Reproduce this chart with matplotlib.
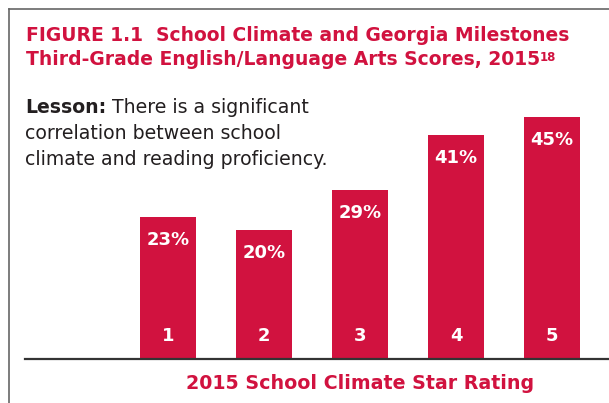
import matplotlib
matplotlib.use("Agg")
from matplotlib import pyplot as plt
from matplotlib.lines import Line2D

# Data
ratings = [1, 2, 3, 4, 5]
rating_labels = ["1", "2", "3", "4", "5"]
scores = [23, 20, 29, 41, 45]
value_labels = ["23%", "20%", "29%", "41%", "45%"]

TITLE_1 = "FIGURE 1.1  School Climate and Georgia Milestones"
TITLE_2 = "Third-Grade English/Language Arts Scores, 2015"
FOOTNOTE = "18"
LESSON_BOLD = "Lesson:"
LESSON_REST = " There is a significant"
LESSON_LINES = ["correlation between school", "climate and reading proficiency."]
X_LABEL = "2015 School Climate Star Rating"

RED = "#D1123F"
DARK = "#333333"
BORDER = "#666666"
INK = "#231F20"

W, H, DPI = 609, 403, 100
BASE = -8.5  # baseline of the bars sits below zero in the original
plt.rcParams["font.family"] = ["DejaVu Sans"]

fig = plt.figure(figsize=(W / DPI, H / DPI), dpi=DPI)
fig.patch.set_facecolor("white")


def px(x, y):
    """ Pixel position (from top-left) to figure fraction. """
    return x / W, 1 - y / H


# Axes: 96 px per rating unit, 4.52 px per percent point
left_px, bottom_px = 25, 359
x0 = 1 - (168 - left_px) / 96
x1 = 5 + (W - 552) / 96
y1 = BASE + bottom_px / 4.52
ax = fig.add_axes([left_px / W, (H - bottom_px) / H, 1 - left_px / W, bottom_px / H])
ax.set_xlim(x0, x1)
ax.set_ylim(BASE, y1)
ax.axis("off")

heights = [s - BASE for s in scores]
ax.bar(ratings, heights, bottom=BASE, width=56 / 96, color=RED, linewidth=0)
ax.axhline(BASE, color=DARK, linewidth=1.6, clip_on=False)

for r, s, lab in zip(ratings, scores, value_labels):
    ax.annotate(lab, xy=(r, s), xytext=(0, -23), textcoords="offset pixels",
                ha="center", va="center", color="white", fontsize=13,
                fontweight="bold")
for r, lab in zip(ratings, rating_labels):
    ax.annotate(lab, xy=(r, BASE), xytext=(0, 23), textcoords="offset pixels",
                ha="center", va="center", color="white", fontsize=13,
                fontweight="bold")

# Frame (only top and left sides visible in the crop)
fig.add_artist(Line2D([9 / W, 9 / W], [0, 1 - 9 / H], color=BORDER, linewidth=1.2,
                      transform=fig.transFigure))
fig.add_artist(Line2D([9 / W, 1], [1 - 9 / H, 1 - 9 / H], color=BORDER, linewidth=1.2,
                      transform=fig.transFigure))

# Title
fig.text(*px(26, 41), TITLE_1, color=RED, fontsize=13.5, fontweight="bold",
         va="baseline", ha="left")
t2 = fig.text(*px(26, 65), TITLE_2, color=RED, fontsize=13.5, fontweight="bold",
              va="baseline", ha="left")
ax.annotate(FOOTNOTE, xy=(1, 1), xycoords=t2, xytext=(0, -1),
            textcoords="offset pixels", ha="left", va="top", color=RED,
            fontsize=8.5, fontweight="bold", annotation_clip=False)

# Lesson text
lb = fig.text(*px(25, 113), LESSON_BOLD, color=INK, fontsize=13.6,
              fontweight="bold", va="baseline", ha="left")
ax.annotate(LESSON_REST, xy=(1, 0), xycoords=lb, ha="left", va="bottom",
            color=INK, fontsize=13.6, annotation_clip=False)
for i, line in enumerate(LESSON_LINES):
    fig.text(*px(25, 139 + 26 * i), line, color=INK, fontsize=13.6,
             va="baseline", ha="left")

# X label centred on the third bar
fig.text(*px(360, 389), X_LABEL, color=RED, fontsize=13.7, fontweight="bold",
         va="baseline", ha="center")

fig.savefig("out.png", dpi=DPI)
